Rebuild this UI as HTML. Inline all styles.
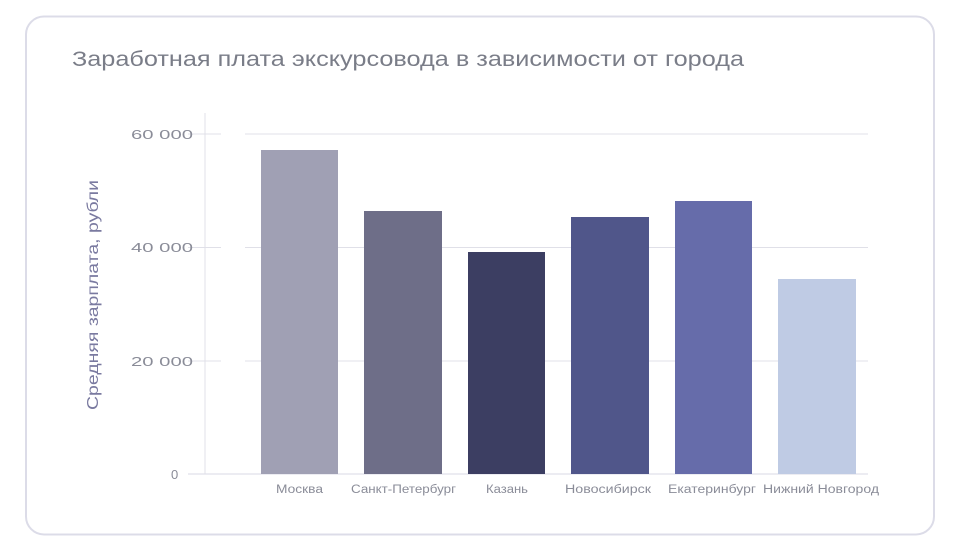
<!DOCTYPE html>
<html><head><meta charset="utf-8"><style>
html,body{margin:0;padding:0;background:#fff;}
svg{display:block;font-family:"Liberation Sans","DejaVu Sans",sans-serif;}
</style></head><body>
<svg width="961" height="550" viewBox="0 0 961 550" xmlns="http://www.w3.org/2000/svg">
<rect x="26" y="16.5" width="908" height="518" rx="18" fill="#fff" stroke="#dcdce8" stroke-width="2"/>
<text x="72" y="66" font-size="21" fill="#7a7d88" textLength="672" lengthAdjust="spacingAndGlyphs">Заработная плата экскурсовода в зависимости от города</text>
<g stroke="#e0e0e8" stroke-width="1">
<line x1="188" y1="134" x2="221" y2="134"/><line x1="245" y1="134" x2="868" y2="134"/>
<line x1="188" y1="247.5" x2="221" y2="247.5"/><line x1="245" y1="247.5" x2="868" y2="247.5"/>
<line x1="188" y1="361" x2="221" y2="361"/><line x1="245" y1="361" x2="868" y2="361"/>
<line x1="188" y1="474" x2="868" y2="474" stroke="#d8d8e4"/>
<line x1="205" y1="113" x2="205" y2="474"/>
</g>
<g font-size="13" fill="#8a8c98">
<text x="131" y="139" textLength="62" lengthAdjust="spacingAndGlyphs">60 000</text>
<text x="131" y="252" textLength="62" lengthAdjust="spacingAndGlyphs">40 000</text>
<text x="131" y="366" textLength="62" lengthAdjust="spacingAndGlyphs">20 000</text>
<text x="171" y="479">0</text>
</g>
<text transform="translate(98,295) rotate(-90)" font-size="16" fill="#7a7aa0" text-anchor="middle" textLength="230" lengthAdjust="spacingAndGlyphs">Средняя зарплата, рубли</text>
<rect x="261" y="150" width="77" height="324" fill="#a0a0b4"/>
<rect x="364" y="211" width="78" height="263" fill="#6e6e88"/>
<rect x="468" y="252" width="77" height="222" fill="#3c3e62"/>
<rect x="571" y="217" width="78" height="257" fill="#50568a"/>
<rect x="675" y="201" width="77" height="273" fill="#666caa"/>
<rect x="778" y="279" width="78" height="195" fill="#bfcbe4"/>
<g font-size="11.5" fill="#8a8c98" lengthAdjust="spacingAndGlyphs">
<text x="276" y="493" textLength="47" lengthAdjust="spacingAndGlyphs">Москва</text>
<text x="351" y="493" textLength="105" lengthAdjust="spacingAndGlyphs">Санкт-Петербург</text>
<text x="486" y="493" textLength="42" lengthAdjust="spacingAndGlyphs">Казань</text>
<text x="565" y="493" textLength="86" lengthAdjust="spacingAndGlyphs">Новосибирск</text>
<text x="668" y="493" textLength="88" lengthAdjust="spacingAndGlyphs">Екатеринбург</text>
<text x="763" y="493" textLength="116" lengthAdjust="spacingAndGlyphs">Нижний Новгород</text>
</g>
</svg>
</body></html>
